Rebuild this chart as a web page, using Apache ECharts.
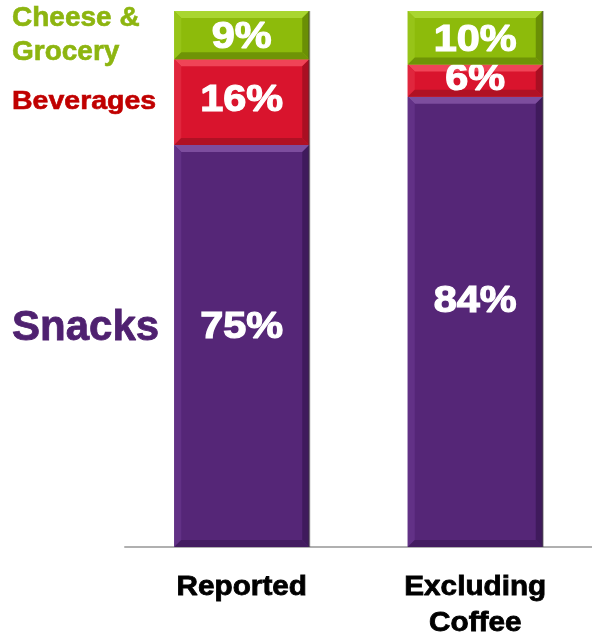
<!DOCTYPE html>
<html>
<head>
<meta charset="utf-8">
<script src="https://cdn.jsdelivr.net/npm/echarts@6/dist/echarts.min.js"></script>
<style>
  html, body { margin: 0; padding: 0; background: #ffffff; }
  #chart { width: 592px; height: 638px; }
</style>
</head>
<body>
<div id="chart"></div>
<script>
// Sales mix by segment, as percentages of the total
const categories = ['Reported', 'Excluding\nCoffee'];
const snacks = [75, 84];
const beverages = [16, 6];
const cheeseGrocery = [9, 10];

const FONT = '"Liberation Sans", Arial, sans-serif';
const BAR_W = 135;
const BEVEL = 7;

// Each segment: face colour plus lighter / darker bevel shades
const palette = {
  snacks:   { face: '#552677', top: '#7d4d9e', left: '#623186', right: '#3f1a5c', bottom: '#431c60' },
  beverages:{ face: '#d9142d', top: '#f04457', left: '#e0263d', right: '#a90f22', bottom: '#b01124' },
  cheese:   { face: '#8dbb0b', top: '#a9d630', left: '#97c418', right: '#6a8f05', bottom: '#6f9406' }
};

// Stack the three segments on each category
function stacked(values, below) {
  return values.map((v, i) => {
    const base = below.reduce((s, arr) => s + arr[i], 0);
    return [i, base, base + v, v];
  });
}

// labelPos: where the value label sits, as a fraction of the segment from its top
function bevelRenderer(colors, labelPos, withCategory) {
  return function (params, api) {
    const cat = api.value(0);
    const p0 = api.coord([cat, api.value(1)]);
    const p1 = api.coord([cat, api.value(2)]);
    const l = p0[0] - BAR_W / 2, r = l + BAR_W;
    const t = p1[1], b = p0[1];
    const d = Math.min(BEVEL, (b - t) / 2);
    const poly = (pts, fill) => ({ type: 'polygon', shape: { points: pts }, style: { fill: fill } });
    const children = [
      { type: 'rect', shape: { x: l, y: t, width: BAR_W, height: b - t }, style: { fill: colors.face } },
      poly([[l, t], [r, t], [r - d, t + d], [l + d, t + d]], colors.top),
      poly([[l, t], [l + d, t + d], [l + d, b - d], [l, b]], colors.left),
      poly([[r, t], [r, b], [r - d, b - d], [r - d, t + d]], colors.right),
      poly([[l, b], [l + d, b - d], [r - d, b - d], [r, b]], colors.bottom),
      { type: 'rect', shape: { x: r - 1, y: t, width: 2, height: b - t }, style: { fill: 'rgba(60,60,60,0.45)' } },
      {
        type: 'text',
        x: (l + r) / 2,
        y: t + (b - t) * labelPos,
        scaleX: 1.12,
        style: {
          text: api.value(3) + '%',
          fill: '#ffffff',
          stroke: '#ffffff',
          lineWidth: 1.2,
          font: 'bold 37px ' + FONT,
          align: 'center',
          verticalAlign: 'middle'
        }
      }
    ];
    if (withCategory) {
      children.push({
        type: 'text',
        x: (l + r) / 2,
        y: b + 23,
        scaleX: 1.1,
        style: {
          text: categories[cat],
          fill: '#000000',
          stroke: '#000000',
          lineWidth: 0.8,
          font: 'bold 27px ' + FONT,
          lineHeight: 36,
          align: 'center',
          verticalAlign: 'top'
        }
      });
    }
    return { type: 'group', children: children };
  };
}

const chart = echarts.init(document.getElementById('chart'), null, { renderer: 'canvas' });

chart.setOption({
  animation: false,
  grid: { left: 125, top: 11, width: 472, bottom: 91 },
  xAxis: {
    type: 'category',
    data: categories,
    axisLine: { lineStyle: { color: '#b0b0b0', width: 2 } },
    axisTick: { show: false },
    axisLabel: { show: false }
  },
  yAxis: { type: 'value', min: 0, max: 100, show: false, splitLine: { show: false } },
  series: [
    { name: 'Snacks', type: 'custom', renderItem: bevelRenderer(palette.snacks, 0.455, true),
      data: stacked(snacks, []), encode: { x: 0, y: [1, 2] } },
    { name: 'Beverages', type: 'custom', renderItem: bevelRenderer(palette.beverages, 0.48, false),
      data: stacked(beverages, [snacks]), encode: { x: 0, y: [1, 2] } },
    { name: 'Cheese & Grocery', type: 'custom', renderItem: bevelRenderer(palette.cheese, 0.56, false),
      data: stacked(cheeseGrocery, [snacks, beverages]), encode: { x: 0, y: [1, 2] } }
  ],
  graphic: [
    { type: 'text', x: 12, y: 1,
      style: { text: 'Cheese &\nGrocery', fill: '#8db510', stroke: '#8db510', lineWidth: 0.6,
               font: 'bold 28px ' + FONT, lineHeight: 34, verticalAlign: 'top' } },
    { type: 'text', x: 12, y: 90, scaleX: 1.14,
      style: { text: 'Beverages', fill: '#c00000', stroke: '#c00000', lineWidth: 0.6,
               font: 'bold 25px ' + FONT, verticalAlign: 'top' } },
    { type: 'text', x: 12, y: 307,
      style: { text: 'Snacks', fill: '#4f2170', stroke: '#4f2170', lineWidth: 0.8,
               font: 'bold 42px ' + FONT, verticalAlign: 'top' } }
  ]
});
</script>
</body>
</html>
